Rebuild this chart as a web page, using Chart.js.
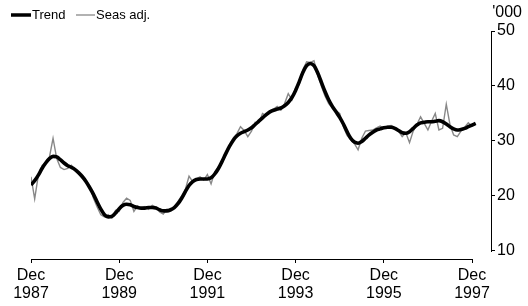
<!DOCTYPE html>
<html><head><meta charset="utf-8">
<script src="https://cdn.jsdelivr.net/npm/chart.js@4.4.0/dist/chart.umd.min.js"></script>
<style>html,body{margin:0;padding:0;background:#fff}canvas{display:block}</style>
</head><body>
<canvas id="c" width="528" height="306"></canvas>
<script>
// Monthly series, Dec 1987 (index 0) onward
const tickMonths = [0, 24, 48, 72, 96, 120];
const tickLabels = [['Dec','1987'],['Dec','1989'],['Dec','1991'],['Dec','1993'],['Dec','1995'],['Dec','1997']];
const yTicks = [10, 20, 30, 40, 50];
const unitLabel = "'000";
const seriesNames = ['Trend', 'Seas adj.'];

const trend = [
22.0,22.8,23.8,25.0,26.0,26.8,27.2,27.1,26.6,26.0,25.5,25.2,
24.8,24.2,23.5,22.6,21.5,20.3,18.9,17.6,16.6,16.2,16.3,16.9,
17.7,18.3,18.5,18.4,18.1,17.9,17.8,17.8,17.9,17.9,17.8,17.5,
17.3,17.3,17.5,17.9,18.6,19.6,20.8,21.9,22.6,23.0,23.1,23.1,
23.1,23.3,24.0,25.0,26.3,27.7,29.0,30.1,30.9,31.4,31.7,32.0,
32.4,33.0,33.6,34.2,34.8,35.3,35.6,35.8,36.0,36.4,37.0,37.9,
39.2,40.8,42.5,43.7,44.1,43.7,42.4,40.7,39.0,37.5,36.3,35.3,
34.3,33.1,31.7,30.5,29.8,29.6,29.9,30.5,31.1,31.6,32.0,32.2,
32.4,32.5,32.5,32.3,31.9,31.5,31.4,31.7,32.3,32.9,33.3,33.4,
33.5,33.5,33.6,33.7,33.5,33.1,32.6,32.2,32.0,32.1,32.3,32.6,
32.9,33.2
];
const seasAdj = [
23.5,19.5,23.8,25.5,26.2,27.0,30.5,26.8,25.2,24.8,25.0,25.6,
24.6,24.0,23.2,22.8,21.8,19.6,18.0,16.6,16.2,16.6,16.0,17.4,
17.2,18.8,19.6,19.2,17.2,18.2,17.8,18.1,17.6,18.3,18.0,17.1,
16.7,17.6,17.3,18.1,19.0,20.0,21.2,23.6,22.6,23.1,23.5,22.9,
23.9,22.2,24.4,25.3,26.0,27.6,29.3,30.5,31.3,32.6,31.9,30.8,
31.8,33.4,33.3,35.0,34.6,35.5,35.8,36.3,35.6,36.8,38.6,37.5,
39.7,40.3,43.0,44.4,44.3,44.6,42.0,40.0,38.2,36.8,36.0,35.5,
35.0,32.6,31.0,30.2,29.5,28.4,30.5,31.8,31.9,32.0,32.4,32.7,
32.3,32.7,32.8,32.4,31.8,30.8,31.5,29.7,31.8,33.0,34.4,33.2,
32.0,33.6,35.0,32.0,32.3,36.7,33.0,31.1,30.8,31.8,32.5,33.3,
32.7,33.1
];

const FONT = '"Liberation Sans", Arial, sans-serif';
Chart.defaults.color = '#000';
Chart.defaults.font.family = FONT;

const decor = {
  id: 'decor',
  afterDraw(chart) {
    const ctx = chart.ctx, xs = chart.scales.x, ys = chart.scales.y, a = chart.chartArea;
    ctx.save();
    ctx.strokeStyle = '#000';
    ctx.lineWidth = 1;
    // x axis line
    const yb = Math.round(a.bottom) + 0.5;
    ctx.beginPath();
    ctx.moveTo(xs.getPixelForValue(tickMonths[0]), yb);
    ctx.lineTo(xs.getPixelForValue(tickMonths[tickMonths.length - 1]) + 0.5, yb);
    ctx.stroke();
    // y axis line
    const xr = Math.round(a.right) + 0.5;
    ctx.beginPath();
    ctx.moveTo(xr, Math.round(ys.getPixelForValue(yTicks[0])) + 1);
    ctx.lineTo(xr, Math.round(ys.getPixelForValue(yTicks[yTicks.length - 1])));
    ctx.stroke();
    // unit label
    ctx.fillStyle = '#000';
    ctx.font = '16px ' + FONT;
    ctx.textBaseline = 'middle';
    ctx.textAlign = 'right';
    ctx.fillText(unitLabel, 522, 13);
    // legend
    ctx.textAlign = 'left';
    ctx.font = '13px ' + FONT;
    ctx.lineCap = 'butt';
    ctx.strokeStyle = '#000';
    ctx.lineWidth = 3.5;
    ctx.beginPath(); ctx.moveTo(11, 15); ctx.lineTo(31, 15); ctx.stroke();
    ctx.fillText(seriesNames[0], 32, 15);
    ctx.strokeStyle = '#888';
    ctx.lineWidth = 1.3;
    ctx.beginPath(); ctx.moveTo(76, 15); ctx.lineTo(95, 15); ctx.stroke();
    ctx.fillText(seriesNames[1], 96, 15);
    ctx.restore();
  }
};

new Chart(document.getElementById('c'), {
  type: 'line',
  data: {
    datasets: [
      { label: seriesNames[0], data: trend.map((v, i) => ({x: i, y: v})),
        borderColor: '#000', borderWidth: 3.6, pointRadius: 0, tension: 0.4,
        cubicInterpolationMode: 'monotone', fill: false },
      { label: seriesNames[1], data: seasAdj.map((v, i) => ({x: i, y: v})),
        borderColor: '#888', borderWidth: 1.4, pointRadius: 0, tension: 0, fill: false }
    ]
  },
  options: {
    responsive: false,
    devicePixelRatio: 1,
    animation: false,
    layout: { padding: { left: 31, top: 31, right: 0, bottom: 0 } },
    plugins: { legend: { display: false }, tooltip: { enabled: false } },
    scales: {
      x: {
        type: 'linear', min: 0, max: 125.17,
        afterBuildTicks: s => { s.ticks = tickMonths.map(v => ({value: v})); },
        afterFit: s => { s.height = 47; },
        border: { display: false },
        grid: { display: true, drawOnChartArea: false, drawTicks: true, tickLength: 4, color: '#000', lineWidth: 1 },
        ticks: { padding: 4, maxRotation: 0, autoSkip: false, font: { size: 16, lineHeight: 1.1 },
          callback: (v) => tickLabels[tickMonths.indexOf(v)] }
      },
      y: {
        position: 'right', min: 8.545, max: 50,
        afterBuildTicks: s => { s.ticks = yTicks.map(v => ({value: v})); },
        afterFit: s => { s.width = 37; },
        border: { display: false },
        grid: { display: true, drawOnChartArea: false, drawTicks: true, tickLength: 4, color: '#000', lineWidth: 1 },
        ticks: { padding: 2, font: { size: 16 }, callback: v => String(v) }
      }
    }
  },
  plugins: [decor]
});
</script>
</body></html>
